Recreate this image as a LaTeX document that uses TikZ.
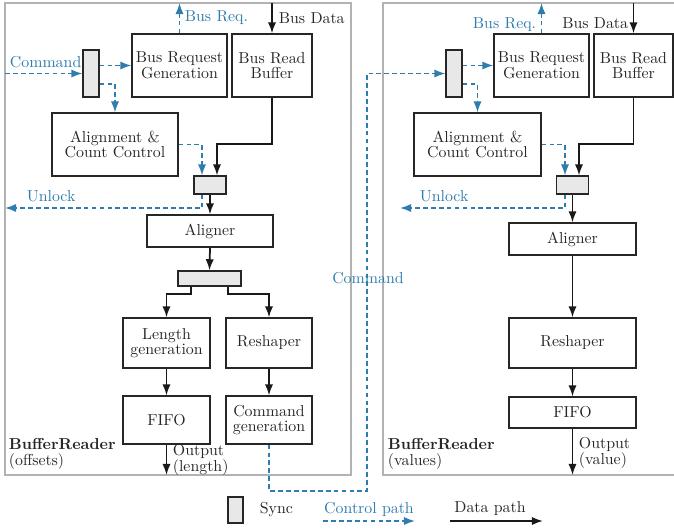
\documentclass[tikz,border=0pt]{standalone}
\usepackage{amsmath,amsfonts,amssymb}
\usepackage{tikz}
\usetikzlibrary{arrows.meta,calc}
\definecolor{ctrlblue}{RGB}{46,125,173}
\definecolor{syncgray}{RGB}{232,232,232}

\begin{document}
\begin{tikzpicture}[x=0.63pt,y=-0.63pt,
		>={Latex[length=7pt,width=5.2pt]},
		every node/.append style={font=\fontsize{10pt}{9.8pt}\selectfont, text=black!85},
		block/.style={draw=black!85, line width=0.75pt, align=center, inner sep=0pt},
		sync/.style={draw=black!85, line width=0.75pt, fill=syncgray, inner sep=0pt},
		ctrl/.style={ctrlblue, line width=1pt, dash pattern=on 3pt off 2pt, ->},
		data/.style={black!90, line width=1.1pt, ->},
		frame/.style={draw=gray!60, line width=0.9pt}]
			\useasboundingbox (0,0) rectangle (674,530);
			\draw[frame] (5,3) rectangle (351,475);
			\draw[frame] (383,3) rectangle (700,475);
			
			% left reader (offsets)
			\node[sync, minimum width=10.1pt, minimum height=29.6pt] (lsynca) at (91,73.5) {};
			\node[block, minimum width=59.9pt, minimum height=39.7pt] (lbrg) at (179.5,65.5) {Bus Request\\Generation};
			\node[block, minimum width=50.4pt, minimum height=39.7pt] (lbrb) at (272,65.5) {Bus Read\\Buffer};
			\node[block, minimum width=79.4pt, minimum height=39.7pt] (lacc) at (115,144.5) {Alignment \&\\Count Control};
			\node[sync, minimum width=20.2pt, minimum height=11.3pt] (lsyncb) at (210,185) {};
			\node[block, minimum width=79.4pt, minimum height=20.2pt] (lalign) at (210,231) {Aligner};
			\node[sync, minimum width=39.7pt, minimum height=9.5pt] (lsyncc) at (209.5,278.5) {};
			\node[block, minimum width=54.8pt, minimum height=31.5pt] (llen) at (166.5,343) {Length\\generation};
			\node[block, minimum width=54.2pt, minimum height=31.5pt] (lresh) at (269,343) {Reshaper};
			\node[block, minimum width=54.8pt, minimum height=30.2pt] (lfifo) at (166.5,420) {FIFO};
			\node[block, minimum width=54.2pt, minimum height=30.2pt] (lcmd) at (269,420) {Command\\generation};
			
			\coordinate (lin) at (5,73.5);
			\coordinate (lreq) at (179.5,3);
			\coordinate (ldata) at (272,3);
			\coordinate (lbend) at (217,144);
			\coordinate (lunlock) at (5,208);
			\coordinate (lout) at (166.5,475);
			
			\draw[ctrl] (lin) -- (lsynca.west);
			\draw[ctrl] (lsynca.east |- lbrg.west) -- (lbrg.west);
			\draw[ctrl] ($(lsynca.east)+(0,10.5)$) -| (lacc.north);
			\draw[ctrl] (lbrg.north) -- (lreq);
			\draw[data] (ldata) -- (lbrb.north);
			\draw[data] (lbrb.south) |- (lbend) -- (lbend |- lsyncb.north);
			\draw[ctrl] (lacc.east) -| ($(lsyncb.north)+(-8,0)$);
			\draw[ctrl] ($(lsyncb.south)+(-8,0)$) |- (lunlock);
			\draw[data] (lsyncb.south) -- (lalign.north);
			\draw[data] (lalign.south) -- (lsyncc.north);
			\draw[data] ($(lsyncc.south)+(-18.5,0)$) -- ++(0,7) -| (llen.north);
			\draw[data] ($(lsyncc.south)+(18.5,0)$) -- ++(0,7) -| (lresh.north);
			\draw[data] (llen.south) -- (lfifo.north);
			\draw[data] (lresh.south) -- (lcmd.north);
			\draw[data] (lfifo.south) -- (lout);
			
			\node [ctrlblue, anchor=south west, inner sep=1pt] (lcmdlbl) at (8,70) {Command};
			\node [ctrlblue, right, inner sep=1pt] (lreqlbl) at (183,18) {Bus Req.};
			\node [right, inner sep=1pt] (ldatalbl) at (277,18) {Bus Data};
			\node [ctrlblue, anchor=south west, inner sep=1pt] (lunlocklbl) at (25,204) {Unlock};
			\node [right, align=left, inner sep=1pt] (loutlbl) at (171,460) {Output\\(length)};
			\node [anchor=south west, align=left, inner sep=1pt] (lname) at (7,471) {\textbf{BufferReader}\\(offsets)};
			
			% right reader (values)
			\node[sync, minimum width=10.1pt, minimum height=29.6pt] (rsynca) at (454,73.5) {};
			\node[block, minimum width=59.9pt, minimum height=39.7pt] (rbrg) at (541.5,65.5) {Bus Request\\Generation};
			\node[block, minimum width=49.8pt, minimum height=39.7pt] (rbrb) at (633.5,65.5) {Bus Read\\Buffer};
			\node[block, minimum width=80pt, minimum height=39.7pt] (racc) at (477.5,144.5) {Alignment \&\\Count Control};
			\node[sync, minimum width=20.2pt, minimum height=11.3pt] (rsyncb) at (572.5,185) {};
			\node[block, minimum width=80pt, minimum height=20.2pt] (ralign) at (572.5,239) {Aligner};
			\node[block, minimum width=80pt, minimum height=31.5pt] (rresh) at (572.5,343) {Reshaper};
			\node[block, minimum width=80pt, minimum height=19.5pt] (rfifo) at (572.5,412.5) {FIFO};
			
			\coordinate (rreq) at (541.5,3);
			\coordinate (rdata) at (633.5,3);
			\coordinate (rbend) at (579,144);
			\coordinate (runlock) at (400,208);
			\coordinate (rout) at (572.5,475);
			\coordinate (cmdbend) at (367,491);
			
			\draw[ctrl] (lcmd.south) |- (cmdbend) -- (cmdbend |- rsynca.west) -- (rsynca.west);
			\draw[ctrl] (rsynca.east |- rbrg.west) -- (rbrg.west);
			\draw[ctrl] ($(rsynca.east)+(0,10.5)$) -| (racc.north);
			\draw[ctrl] (rbrg.north) -- (rreq);
			\draw[data] (rdata) -- (rbrb.north);
			\draw[data] (rbrb.south) |- (rbend) -- (rbend |- rsyncb.north);
			\draw[ctrl] (racc.east) -| ($(rsyncb.north)+(-7.5,0)$);
			\draw[ctrl] ($(rsyncb.south)+(-7.5,0)$) |- (runlock);
			\draw[data] (rsyncb.south) -- (ralign.north);
			\draw[data] (ralign.south) -- (rresh.north);
			\draw[data] (rresh.south) -- (rfifo.north);
			\draw[data] (rfifo.south) -- (rout);
			
			\node [ctrlblue, inner sep=1pt] (cmdlbl) at (368,278) {Command};
			\node [ctrlblue, left, inner sep=1pt] (rreqlbl) at (538,25) {Bus Req.};
			\node [left, inner sep=1pt] (rdatalbl) at (630,23) {Bus Data};
			\node [ctrlblue, anchor=south west, inner sep=1pt] (runlocklbl) at (418,204) {Unlock};
			\node [right, align=left, inner sep=1pt] (routlbl) at (577,453) {Output\\(value)};
			\node [anchor=south west, align=left, inner sep=1pt] (rname) at (386,471) {\textbf{BufferReader}\\(values)};
			
			% legend
			\node[sync, minimum width=9.5pt, minimum height=16.4pt] (lgsync) at (235.5,510) {};
			\node [right, inner sep=1pt] (lgsynclbl) at (258,510) {Sync};
			\node [ctrlblue, inner sep=1pt] (lgctrllbl) at (369,509) {Control path};
			\node [inner sep=1pt] (lgdatalbl) at (490,509) {Data path};
			\coordinate (lgca) at (323,521);
			\coordinate (lgcb) at (415,521);
			\coordinate (lgda) at (450,521);
			\coordinate (lgdb) at (543,521);
			\draw[ctrl] (lgca) -- (lgcb);
			\draw[data] (lgda) -- (lgdb);
		\end{tikzpicture}
\end{document}
